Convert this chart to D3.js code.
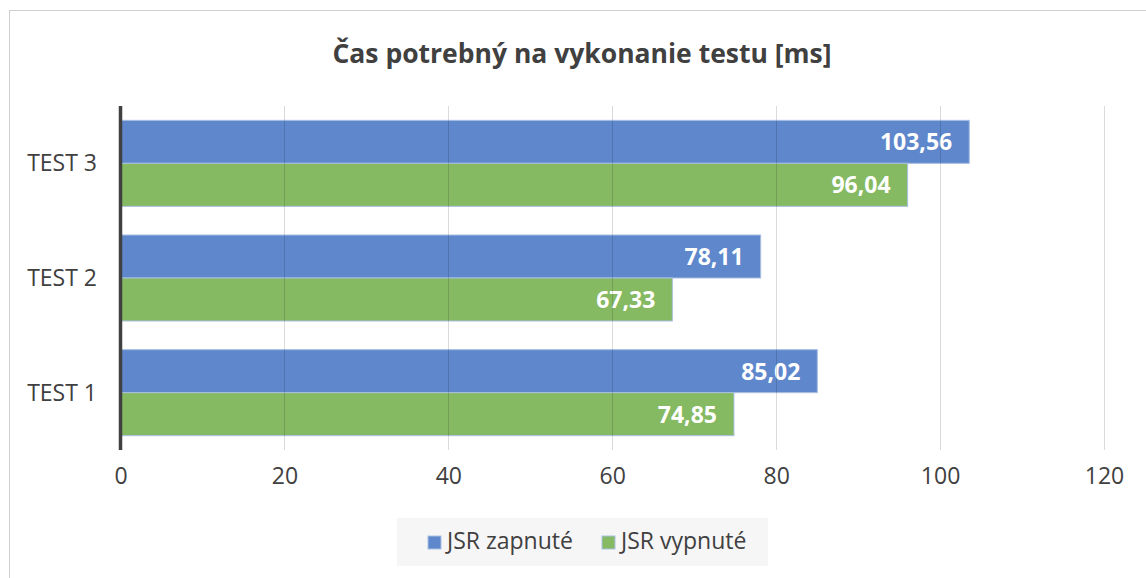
<!DOCTYPE html>
<html>
<head>
<meta charset="utf-8">
<script src="https://cdn.jsdelivr.net/npm/d3@7"></script>
<style>
  body { margin: 0; background: #fff; }
  svg { display: block; font-family: "Open Sans", sans-serif; }
</style>
</head>
<body>
<svg width="1146" height="578"></svg>
<script>
const categories = ["TEST 3", "TEST 2", "TEST 1"];
const seriesNames = ["JSR zapnuté", "JSR vypnuté"];
const jsrOn = [103.56, 78.11, 85.02];
const jsrOff = [96.04, 67.33, 74.85];
const xTicks = [0, 20, 40, 60, 80, 100, 120];
const colors = ["#5e87cc", "#85b962"];

const data = categories.map((c, i) => ({ cat: c, values: [jsrOn[i], jsrOff[i]] }));

const svg = d3.select("svg");
const fmt = (v) => v.toFixed(2).replace(".", ",");

// chart frame
svg.append("rect")
  .attr("x", 9.5).attr("y", 10.5)
  .attr("width", 1200).attr("height", 600)
  .attr("fill", "none").attr("stroke", "#d0d0d0");

svg.append("text")
  .attr("x", 582).attr("y", 63)
  .attr("text-anchor", "middle")
  .attr("font-size", 26.5).attr("font-weight", "bold")
  .attr("fill", "#404040")
  .text("Čas potrebný na vykonanie testu [ms]");

const x = d3.scaleLinear().domain([0, 120]).range([120.5, 1104]);
const y = d3.scaleBand().domain(categories).range([106, 450])
  .paddingInner(0.25).paddingOuter(0.125);
const ySub = d3.scaleBand().domain([0, 1]).range([0, y.bandwidth()]);

const groups = svg.selectAll(".grp").data(data).enter().append("g")
  .attr("transform", (d) => `translate(0,${y(d.cat)})`);

groups.selectAll("rect").data((d) => d.values).enter().append("rect")
  .attr("x", x(0))
  .attr("y", (v, i) => ySub(i))
  .attr("width", (v) => x(v) - x(0))
  .attr("height", ySub.bandwidth())
  .attr("fill", (v, i) => colors[i])
  .attr("stroke", "#a9bfe3")
  .attr("stroke-width", 1);

// gridlines, drawn over the bars like the original
svg.selectAll(".grid").data(xTicks.slice(1)).enter().append("line")
  .attr("x1", (d) => Math.round(x(d)) + 0.5).attr("x2", (d) => Math.round(x(d)) + 0.5)
  .attr("y1", 106).attr("y2", 450)
  .attr("stroke", "#000").attr("stroke-opacity", 0.14);

groups.selectAll(".lbl").data((d) => d.values).enter().append("text")
  .attr("x", (v) => x(v) - 17)
  .attr("y", (v, i) => ySub(i) + ySub.bandwidth() / 2 + 8.5)
  .attr("text-anchor", "end")
  .attr("font-size", 23).attr("font-weight", "bold")
  .attr("fill", "#fff")
  .text((v) => fmt(v));

// category labels
svg.selectAll(".cat").data(categories).enter().append("text")
  .attr("x", 97)
  .attr("y", (d) => y(d) + y.bandwidth() / 2 + 8)
  .attr("text-anchor", "end")
  .attr("font-size", 23).attr("fill", "#404040")
  .text((d) => d);

// left axis line
svg.append("line")
  .attr("x1", x(0)).attr("x2", x(0))
  .attr("y1", 106).attr("y2", 450)
  .attr("stroke", "#404040").attr("stroke-width", 3.5);

// x axis
const xAxis = svg.append("g")
  .attr("transform", "translate(0,450)")
  .call(d3.axisBottom(x).tickValues(xTicks).tickSize(0).tickPadding(18));
xAxis.select(".domain").remove();
xAxis.selectAll("text")
  .attr("font-size", 23).attr("fill", "#404040")
  .attr("font-family", "Open Sans, sans-serif");

// legend
const legend = svg.append("g");
legend.append("rect")
  .attr("x", 397).attr("y", 518).attr("width", 371).attr("height", 48)
  .attr("fill", "#f6f6f6");
const legX = [428, 602];
seriesNames.forEach((name, i) => {
  legend.append("rect")
    .attr("x", legX[i]).attr("y", 536).attr("width", 13).attr("height", 13)
    .attr("fill", colors[i]).attr("stroke", "#a9bfe3");
  legend.append("text")
    .attr("x", legX[i] + 19).attr("y", 549)
    .attr("font-size", 23).attr("fill", "#404040")
    .text(name);
});
</script>
</body>
</html>
